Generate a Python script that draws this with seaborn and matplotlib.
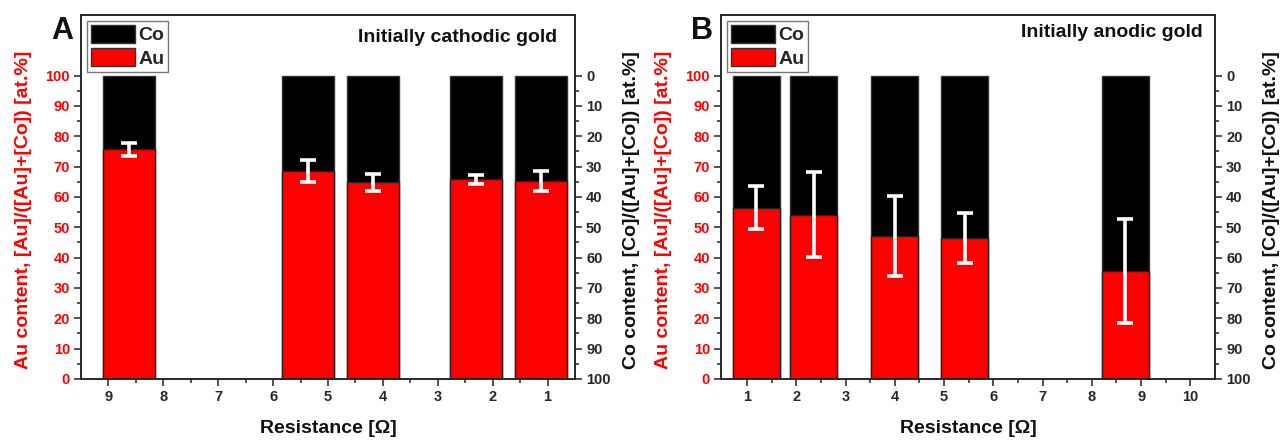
import numpy as np
import pandas as pd
import matplotlib
matplotlib.use('Agg')
import matplotlib.pyplot as plt
from matplotlib.patches import Patch
from matplotlib.ticker import FixedLocator
import seaborn as sns

# datos
res_A = [8.63, 5.37, 4.18, 2.30, 1.12]
au_A = [75.7, 68.6, 64.8, 65.8, 65.4]
err_A = [2.1, 3.7, 2.7, 1.4, 3.3]

res_B = [1.19, 2.35, 4.00, 5.42, 8.68]
au_B = [56.5, 54.2, 47.2, 46.5, 35.6]
err_B = [7.2, 14.1, 13.2, 8.2, 17.1]

ticks_A = [9, 8, 7, 6, 5, 4, 3, 2, 1]
ticks_B = [1, 2, 3, 4, 5, 6, 7, 8, 9, 10]
y_ticks = [0, 10, 20, 30, 40, 50, 60, 70, 80, 90, 100]

sns.set_theme(style='ticks')
plt.rcParams['font.family'] = ['Liberation Sans', 'DejaVu Sans']
plt.rcParams['font.weight'] = 'bold'

fig = plt.figure(figsize=(12.82, 4.41), dpi=100)
ax_A = fig.add_axes([0.0632, 0.1406, 0.3853, 0.8254])
ax_B = fig.add_axes([0.5624, 0.1406, 0.3853, 0.8254])

def panel(ax, res, au, err, xlim, xticks, letter, titulo, tpos):
    df = pd.DataFrame({'res': res, 'au': au})
    df['co'] = 100 - df['au']
    df['total'] = df['au'] + df['co']
    w = 0.95 / np.min(np.diff(np.sort(df['res'])))
    #primero la barra completa de Co (negra) y encima el Au (rojo)
    sns.barplot(x='res', y='total', data=df, native_scale=True, width=w,
                color='black', saturation=1, edgecolor='#333333', linewidth=1,
                errorbar=None, ax=ax)
    sns.barplot(x='res', y='au', data=df, native_scale=True, width=w,
                color='#ff0000', saturation=1, edgecolor='#222222', linewidth=1,
                errorbar=None, ax=ax)
    ax.errorbar(df['res'], df['au'], yerr=err, fmt='none', ecolor='white',
                elinewidth=2.6, capsize=5.5, capthick=2.6, zorder=5)
    ax.set_xlim(*xlim)
    ax.set_ylim(0, 120)
    ax.set_xticks(xticks)
    ax.set_xticklabels([str(t) for t in xticks], fontweight='bold')
    ax.xaxis.set_minor_locator(FixedLocator(np.array(xticks[:-1]) + np.sign(xticks[1] - xticks[0]) * 0.5))
    ax.set_yticks(y_ticks)
    ax.set_yticklabels([str(t) for t in y_ticks], fontweight='bold', color='#ff0000')
    ax.yaxis.set_minor_locator(FixedLocator(np.arange(5, 100, 10)))
    ax.tick_params(axis='both', which='major', direction='out', length=5, width=1.1,
                   labelsize=10.5, pad=3, color='#222222')
    ax.tick_params(axis='both', which='minor', direction='out', length=3, width=1.1, color='#222222')
    for s in ax.spines.values():
        s.set_visible(True)
        s.set_color('#222222')
        s.set_linewidth(1.1)
    ax.set_xlabel('Resistance [Ω]', fontsize=14, fontweight='bold', color='#111111')
    ax.xaxis.set_label_coords(0.5, -0.112)
    ax.set_ylabel('Au content, [Au]/([Au]+[Co]) [at.%]', fontsize=14,
                  fontweight='bold', color='#ff0000')
    ax.yaxis.set_label_coords(-0.099, 0.465)

    ax2 = ax.twinx()
    ax2.set_ylim(100, -20)
    ax2.set_yticks(y_ticks)
    ax2.set_yticklabels([str(t) for t in y_ticks], fontweight='bold')
    ax2.yaxis.set_minor_locator(FixedLocator(np.arange(5, 100, 10)))
    ax2.tick_params(axis='y', which='major', direction='out', length=5, width=1.1,
                    labelsize=10.5, pad=3, color='#222222')
    ax2.tick_params(axis='y', which='minor', direction='out', length=3, width=1.1, color='#222222')
    for s in ax2.spines.values():
        s.set_color('#222222')
        s.set_linewidth(1.1)
    ax2.set_ylabel('Co content, [Co]/([Au]+[Co]) [at.%]', fontsize=14,
                   fontweight='bold', color='#111111')
    ax2.yaxis.set_label_coords(1.097, 0.465)

    ax.text(tpos[0], tpos[1], titulo, transform=ax.transAxes, ha='right', va='center',
            fontsize=14, fontweight='bold', color='#111111')
    handles = [Patch(facecolor='black', edgecolor='#333333', label='Co'),
               Patch(facecolor='#ff0000', edgecolor='#333333', label='Au')]
    leg = ax2.legend(handles=handles, loc='upper left', frameon=True,
                     fancybox=False, framealpha=1, edgecolor='#777777',
                     handlelength=2.3, handleheight=1.05, labelspacing=0.2,
                     handletextpad=0.15, borderpad=0.2, borderaxespad=0.3,
                     prop={'weight': 'bold', 'size': 14})
    leg.get_frame().set_linewidth(1)
    fig.text(ax.get_position().x0 - 0.0145, 0.93, letter, fontsize=22,
             fontweight='bold', ha='center', va='center', color='#111111')

panel(ax_A, res_A, au_A, err_A, (9.5, 0.5), ticks_A, 'A', 'Initially cathodic gold', (0.964, 0.937))
panel(ax_B, res_B, au_B, err_B, (0.47, 10.5), ticks_B, 'B', 'Initially anodic gold', (0.976, 0.953))

fig.savefig('out.png', dpi=100)
